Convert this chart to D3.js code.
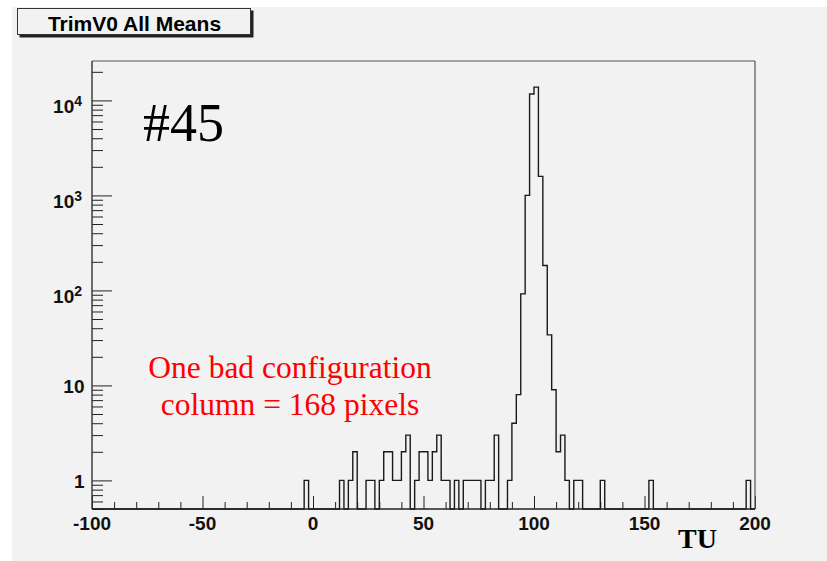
<!DOCTYPE html>
<html>
<head>
<meta charset="utf-8">
<script src="https://cdn.jsdelivr.net/npm/d3@7"></script>
<style>
  html, body { margin: 0; padding: 0; background: #ffffff; }
  svg { display: block; }
</style>
</head>
<body>
<svg id="chart" width="827" height="561"></svg>
<script>
// Histogram "TrimV0 All Means": bin width 2 TU over [-100, 200), log-scale counts.
const xRange = [-100, 200];
const binWidth = 2;
// Filled bins (low edge, entries); every other bin is empty.
const binLow   = [-4, 12, 16, 18, 24, 26, 30, 32, 34, 36,
                  38, 40, 42, 46, 48, 50, 52, 54, 56, 58,
                  60, 64, 68, 70, 72, 74, 78, 80, 82, 88,
                  90, 92, 94, 96, 98, 100, 102, 104, 106, 108,
                  110, 112, 114, 118, 120, 130, 152, 196];
const binCount = [1, 1, 1, 2, 1, 1, 1, 2, 2, 1,
                  1, 2, 3, 1, 2, 2, 1, 2, 3, 1,
                  1, 1, 1, 1, 1, 1, 1, 1, 3, 1,
                  4, 8, 92, 1000, 11700, 13800, 1585, 183, 34, 9,
                  2, 3, 1, 1, 1, 1, 1, 1];
const xMajorTicks = [-100, -50, 0, 50, 100, 150, 200];
const xTickLabels = ["-100", "-50", "0", "50", "100", "150", "200"];
const yDecades = [1, 10, 100, 1000, 10000];
const yDecadeLabels = [["1", null], ["10", null], ["10", "2"], ["10", "3"], ["10", "4"]];
const yRange = [0.5, 26000];

const svg = d3.select("#chart");
const W = 827, H = 561;
const frame = { left: 92, right: 755, top: 61, bottom: 509 };

// canvas background
svg.append("rect").attr("x", 12).attr("y", 7).attr("width", W - 12).attr("height", H - 7)
  .attr("fill", "#f2f2f2");

const x = d3.scaleLinear().domain(xRange).range([frame.left, frame.right]);
const y = d3.scaleLog().domain(yRange).range([frame.bottom, frame.top]);

// full bin array from the filled bins
const nBins = (xRange[1] - xRange[0]) / binWidth;
const counts = new Array(nBins).fill(0);
binLow.forEach((lo, i) => { counts[Math.round((lo - xRange[0]) / binWidth)] = binCount[i]; });

// x ticks (inside the frame)
const xMinor = d3.range(xRange[0], xRange[1] + 1, 10).filter(v => v % 50 !== 0);
svg.append("g").attr("transform", `translate(0,${frame.bottom})`)
  .call(d3.axisBottom(x).tickValues(xMinor).tickSize(-7).tickFormat(""))
  .call(g => g.select(".domain").remove())
  .call(g => g.selectAll("line").attr("stroke", "#222").attr("stroke-width", 1));
svg.append("g").attr("transform", `translate(0,${frame.bottom})`)
  .call(d3.axisBottom(x).tickValues(xMajorTicks).tickSize(-13).tickFormat(""))
  .call(g => g.select(".domain").remove())
  .call(g => g.selectAll("line").attr("stroke", "#222").attr("stroke-width", 1));

// y ticks: decades and 2..9 sub-ticks
const yMinor = [];
[0.1, 1, 10, 100, 1000, 10000].forEach(d => {
  for (let k = 2; k <= 9; k++) {
    const v = d * k;
    if (v >= yRange[0] && v <= yRange[1]) yMinor.push(v);
  }
});
svg.append("g").attr("transform", `translate(${frame.left},0)`)
  .call(d3.axisLeft(y).tickValues(yMinor).tickSize(-11).tickFormat(""))
  .call(g => g.select(".domain").remove())
  .call(g => g.selectAll("line").attr("stroke", "#222").attr("stroke-width", 1));
svg.append("g").attr("transform", `translate(${frame.left},0)`)
  .call(d3.axisLeft(y).tickValues(yDecades).tickSize(-20).tickFormat(""))
  .call(g => g.select(".domain").remove())
  .call(g => g.selectAll("line").attr("stroke", "#222").attr("stroke-width", 1));

// histogram outline
const pts = [[x(xRange[0]), frame.bottom]];
counts.forEach((c, i) => {
  const lo = xRange[0] + i * binWidth, hi = lo + binWidth;
  const yy = c > 0 ? y(c) : frame.bottom;
  pts.push([x(lo), yy], [x(hi), yy]);
});
pts.push([x(xRange[1]), frame.bottom]);
svg.append("path")
  .attr("d", d3.line()(pts))
  .attr("fill", "none").attr("stroke", "#1a1a1a").attr("stroke-width", 1.4)
  .attr("stroke-linejoin", "miter");

// frame
svg.append("line").attr("x1", frame.left).attr("x2", frame.right).attr("y1", frame.top).attr("y2", frame.top)
  .attr("stroke", "#555").attr("stroke-width", 1.2);
svg.append("line").attr("x1", frame.right).attr("x2", frame.right).attr("y1", frame.top).attr("y2", frame.bottom)
  .attr("stroke", "#555").attr("stroke-width", 1.2);
svg.append("line").attr("x1", frame.left).attr("x2", frame.right).attr("y1", frame.bottom).attr("y2", frame.bottom)
  .attr("stroke", "#222").attr("stroke-width", 1.4);
svg.append("line").attr("x1", frame.left).attr("x2", frame.left).attr("y1", frame.top).attr("y2", frame.bottom)
  .attr("stroke", "#333").attr("stroke-width", 1.4);

// x tick labels
const labelFont = "'Liberation Sans', Arial, Helvetica, sans-serif";
svg.append("g").selectAll("text").data(xMajorTicks).join("text")
  .attr("x", d => x(d)).attr("y", 530)
  .attr("text-anchor", "middle")
  .attr("font-family", labelFont).attr("font-weight", "bold").attr("font-size", 19)
  .attr("fill", "#111")
  .text((d, i) => xTickLabels[i]);

// y tick labels with exponents
yDecades.forEach((v, i) => {
  const [base, exp] = yDecadeLabels[i];
  const t = svg.append("text")
    .attr("font-family", labelFont).attr("font-weight", "bold").attr("font-size", 19)
    .attr("fill", "#111").attr("text-anchor", "end");
  if (exp) {
    t.attr("x", 82).attr("y", y(v) + 12.5);
    t.append("tspan").text(base);
    t.append("tspan").attr("font-size", 14).attr("dy", -7).text(exp);
  } else {
    t.attr("x", 84.5).attr("y", y(v) + 7.5).text(base);
  }
});

// axis title
svg.append("text").attr("x", 717).attr("y", 548).attr("text-anchor", "end")
  .attr("font-family", "'Liberation Serif', 'Times New Roman', serif")
  .attr("font-weight", "bold").attr("font-size", 28).attr("fill", "#000")
  .text("TU");

// title box with shadow
svg.append("rect").attr("x", 19.5).attr("y", 10.5).attr("width", 234).attr("height", 27)
  .attr("fill", "#222");
svg.append("rect").attr("x", 17.5).attr("y", 8.5).attr("width", 233).attr("height", 26)
  .attr("fill", "#f2f2f2").attr("stroke", "#333").attr("stroke-width", 1);
svg.append("text").attr("x", 134.5).attr("y", 31).attr("text-anchor", "middle")
  .attr("font-family", labelFont).attr("font-weight", "bold").attr("font-size", 21)
  .attr("fill", "#000").text("TrimV0 All Means");

// annotations
svg.append("text").attr("x", 143).attr("y", 141)
  .attr("font-family", "'Liberation Serif', 'Times New Roman', serif")
  .attr("font-size", 54).attr("fill", "#000").text("#45");
const note = svg.append("text").attr("text-anchor", "middle")
  .attr("font-family", "'Liberation Serif', 'Times New Roman', serif")
  .attr("font-size", 31.5).attr("fill", "#ff0000");
note.append("tspan").attr("x", 290).attr("y", 378).text("One bad configuration");
note.append("tspan").attr("x", 290).attr("y", 415).text("column = 168 pixels");
</script>
</body>
</html>
